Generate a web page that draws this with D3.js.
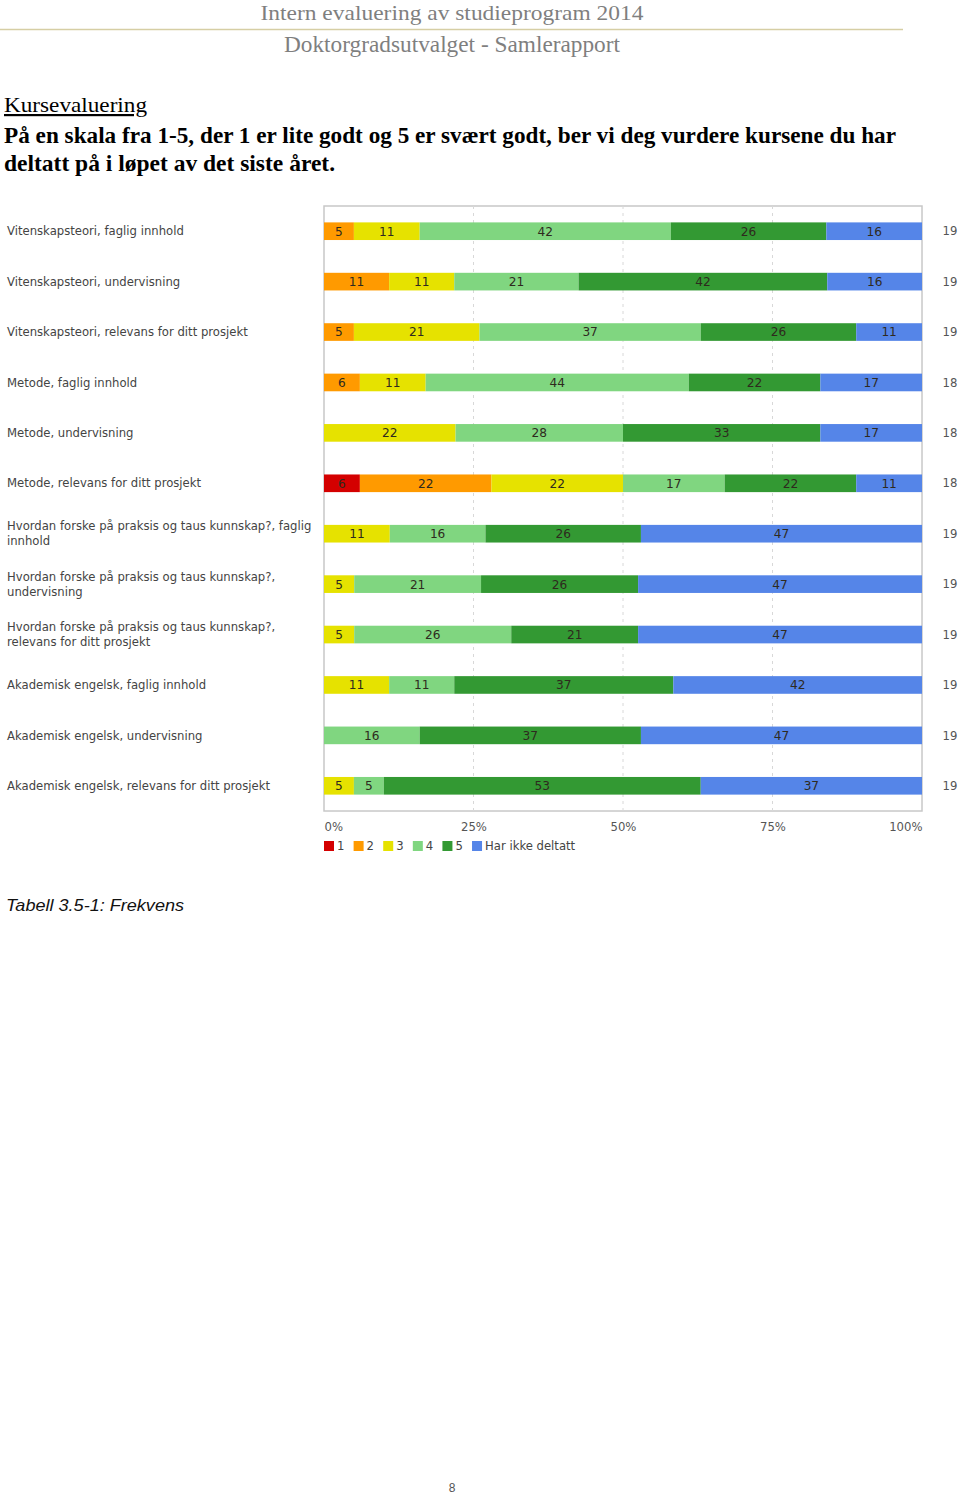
<!DOCTYPE html>
<html><head><meta charset="utf-8">
<script src="https://cdn.jsdelivr.net/npm/d3@7"></script>
<style>body{margin:0;background:#fff} svg{display:block}</style>
</head><body><svg id="c" width="960" height="1494"></svg>
<script>
// ---------- data ----------
const categories = [
  "Vitenskapsteori, faglig innhold",
  "Vitenskapsteori, undervisning",
  "Vitenskapsteori, relevans for ditt prosjekt",
  "Metode, faglig innhold",
  "Metode, undervisning",
  "Metode, relevans for ditt prosjekt",
  "Hvordan forske på praksis og taus kunnskap?, faglig innhold",
  "Hvordan forske på praksis og taus kunnskap?, undervisning",
  "Hvordan forske på praksis og taus kunnskap?, relevans for ditt prosjekt",
  "Akademisk engelsk, faglig innhold",
  "Akademisk engelsk, undervisning",
  "Akademisk engelsk, relevans for ditt prosjekt"
];
const seriesKeys = ["1", "2", "3", "4", "5", "Har ikke deltatt"];
const values1 = [0, 0, 0, 0, 0, 6, 0, 0, 0, 0, 0, 0];
const values2 = [5, 11, 5, 6, 0, 22, 0, 0, 0, 0, 0, 0];
const values3 = [11, 11, 21, 11, 22, 22, 11, 5, 5, 11, 0, 5];
const values4 = [42, 21, 37, 44, 28, 17, 16, 21, 26, 11, 16, 5];
const values5 = [26, 42, 26, 22, 33, 22, 26, 26, 21, 37, 37, 53];
const valuesNone = [16, 16, 11, 17, 17, 11, 47, 47, 47, 42, 47, 37];
const nValues = [19, 19, 19, 18, 18, 18, 19, 19, 19, 19, 19, 19];
const xTickValues = [0, 0.25, 0.5, 0.75, 1];
const xTickLabels = ["0%", "25%", "50%", "75%", "100%"];
const seriesColors = ["#d40000", "#ff9a00", "#e6e200", "#80d680", "#339933", "#5585e8"];

(function () {
const svg = d3.select("#c");
const allSeries = [values1, values2, values3, values4, values5, valuesNone];
const table = categories.map((c, i) => {
  const row = { cat: c, n: nValues[i] };
  seriesKeys.forEach((k, j) => row[k] = allSeries[j][i]);
  return row;
});

function fitText(sel, w) {
  sel.attr("textLength", w).attr("lengthAdjust", "spacingAndGlyphs");
}

// ---------- page text ----------
svg.append("text").attr("x", 452).attr("y", 20).attr("text-anchor", "middle")
  .attr("font-family", "'Liberation Serif',serif").attr("font-size", 22).attr("fill", "#7f7f7f")
  .text("Intern evaluering av studieprogram 2014").call(fitText, 383);
svg.append("line").attr("x1", 0).attr("x2", 903).attr("y1", 29.5).attr("y2", 29.5)
  .attr("stroke", "#d6cea4").attr("stroke-width", 1.3);
svg.append("text").attr("x", 452).attr("y", 52).attr("text-anchor", "middle")
  .attr("font-family", "'Liberation Serif',serif").attr("font-size", 23).attr("fill", "#7f7f7f")
  .text("Doktorgradsutvalget - Samlerapport").call(fitText, 336);

svg.append("text").attr("x", 4).attr("y", 112)
  .attr("font-family", "'Liberation Serif',serif").attr("font-size", 22).attr("fill", "#000")
  .attr("text-decoration", "underline")
  .text("Kursevaluering").call(fitText, 143);
svg.append("text").attr("x", 4).attr("y", 143)
  .attr("font-family", "'Liberation Serif',serif").attr("font-size", 23).attr("font-weight", "bold").attr("fill", "#000")
  .text("På en skala fra 1-5, der 1 er lite godt og 5 er svært godt, ber vi deg vurdere kursene du har").call(fitText, 892);
svg.append("text").attr("x", 4).attr("y", 171)
  .attr("font-family", "'Liberation Serif',serif").attr("font-size", 23).attr("font-weight", "bold").attr("fill", "#000")
  .text("deltatt på i løpet av det siste året.").call(fitText, 331);

svg.append("text").attr("x", 6).attr("y", 911)
  .attr("font-family", "'Liberation Sans',Arial,sans-serif").attr("font-size", 16.5).attr("font-style", "italic").attr("fill", "#111")
  .text("Tabell 3.5-1: Frekvens").call(fitText, 178);

svg.append("text").attr("x", 452).attr("y", 1488).attr("dy", "0.35em").attr("text-anchor", "middle")
  .attr("font-family", "'Liberation Sans',Arial,sans-serif").attr("font-size", 12).attr("fill", "#555")
  .text("8");

// ---------- chart ----------
const pLeft = 324, pRight = 922, pTop = 206, pBottom = 811;
const labelFont = "'DejaVu Sans',Verdana,sans-serif";

const probe = svg.append("text").attr("font-family", labelFont).attr("font-size", 12).text(categories[0]);
const fs = Math.min(12.5, 12 * 177 / probe.node().getComputedTextLength());
probe.remove();

const x = d3.scaleLinear().domain([0, 1]).range([pLeft, pRight]);
const y = d3.scaleBand().domain(categories).range([pTop, pBottom]).paddingInner(0.65).paddingOuter(0.325);

const g = svg.append("g");
g.append("rect").attr("x", pLeft).attr("y", pTop).attr("width", pRight - pLeft).attr("height", pBottom - pTop)
  .attr("fill", "none").attr("stroke", "#c8c8c8").attr("stroke-width", 1.5);
g.selectAll("line.grid").data(xTickValues.slice(1, -1)).join("line").attr("class", "grid")
  .attr("x1", d => x(d)).attr("x2", d => x(d)).attr("y1", pTop).attr("y2", pBottom)
  .attr("stroke", "#d8d8d8").attr("stroke-dasharray", "3,4");

const stack = d3.stack().keys(seriesKeys).offset(d3.stackOffsetExpand);
const stacked = stack(table);
const color = d3.scaleOrdinal().domain(seriesKeys).range(seriesColors);

const layers = g.selectAll("g.layer").data(stacked).join("g").attr("class", "layer")
  .attr("fill", d => color(d.key));
layers.selectAll("rect").data(d => d).join("rect")
  .attr("x", d => x(d[0])).attr("width", d => x(d[1]) - x(d[0]))
  .attr("y", d => y(d.data.cat)).attr("height", y.bandwidth());

layers.each(function (layer) {
  d3.select(this).selectAll("text").data(layer.filter(s => s.data[layer.key] > 0)).join("text")
    .attr("x", d => (x(d[0]) + x(d[1])) / 2)
    .attr("y", d => y(d.data.cat) + y.bandwidth() / 2)
    .attr("dy", "0.36em").attr("text-anchor", "middle")
    .attr("font-family", labelFont).attr("font-size", fs + 0.5).attr("fill", "#2e2a1e")
    .text(d => d.data[layer.key]);
});

g.selectAll("text.n").data(table).join("text").attr("class", "n")
  .attr("x", 950).attr("y", d => y(d.cat) + y.bandwidth() / 2).attr("dy", "0.36em")
  .attr("text-anchor", "middle").attr("font-family", labelFont).attr("font-size", fs)
  .attr("fill", "#555").text(d => d.n);

const catText = g.selectAll("text.cat").data(categories).join("text").attr("class", "cat")
  .attr("font-family", labelFont).attr("font-size", fs).attr("fill", "#444");
catText.each(function (d) {
  const t = d3.select(this);
  const words = d.split(" ");
  const lines = [];
  let line = [];
  const tmp = t.append("tspan");
  words.forEach(w => {
    const test = line.concat([w]).join(" ");
    tmp.text(test);
    if (tmp.node().getComputedTextLength() > 312 && line.length) {
      lines.push(line.join(" "));
      line = [w];
    } else line.push(w);
  });
  lines.push(line.join(" "));
  tmp.remove();
  const cy = y(d) + y.bandwidth() / 2;
  const lh = 15;
  lines.forEach((l, i) => {
    t.append("tspan").attr("x", 7)
      .attr("y", cy + (i - (lines.length - 1) / 2) * lh)
      .attr("dy", "0.36em").text(l);
  });
});

const xAxis = d3.axisBottom(x).tickValues(xTickValues).tickSize(0)
  .tickFormat((d, i) => xTickLabels[i]);
const ax = svg.append("g").attr("transform", `translate(0,${pBottom + 9})`).call(xAxis);
ax.select(".domain").remove();
ax.selectAll("text").attr("font-family", labelFont).attr("font-size", fs).attr("fill", "#555")
  .attr("text-anchor", (d, i) => i === 0 ? "start" : i === xTickValues.length - 1 ? "end" : "middle");

const legend = svg.append("g").attr("transform", `translate(${pLeft},841)`);
let lx = 0;
seriesKeys.forEach((k) => {
  const it = legend.append("g").attr("transform", `translate(${lx},0)`);
  it.append("rect").attr("width", 10).attr("height", 10).attr("fill", color(k));
  const tx = it.append("text").attr("x", 13).attr("y", 5).attr("dy", "0.36em")
    .attr("font-family", labelFont).attr("font-size", fs).attr("fill", "#444").text(k);
  lx += 13 + tx.node().getComputedTextLength() + 9.2;
});
})();
</script>
</body></html>
